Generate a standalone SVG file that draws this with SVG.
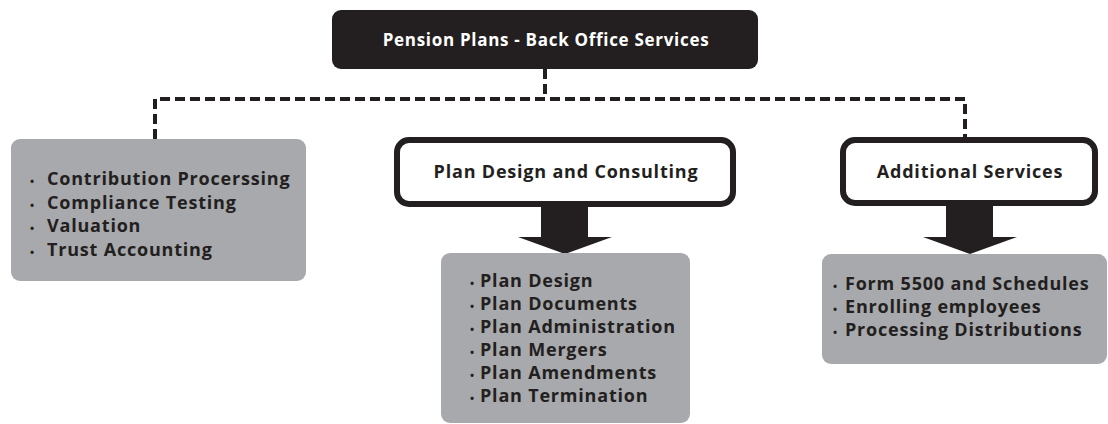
<svg xmlns="http://www.w3.org/2000/svg" width="1108" height="424" viewBox="0 0 1108 424">
<style>
.t{font-family:"Open Sans","Liberation Sans",sans-serif;font-weight:700;fill:#231f20;}
.title{font-size:17px;letter-spacing:0.7px;fill:#ffffff;}
.hdr{font-size:18px;letter-spacing:0.8px;}
.item{font-size:18px;letter-spacing:0.8px;}
.bul{font-size:11px;letter-spacing:0;}
.gray{fill:#a7a9ac;}
.white{fill:#ffffff;stroke:#231f20;stroke-width:6;}
.dash{fill:none;stroke:#231f20;stroke-width:4;stroke-dasharray:10 5;}
.arrow{fill:#231f20;}
</style>
<rect width="1108" height="424" fill="#ffffff"/>
<g id="connectors">
<path class="dash" d="M545,69 V99"/>
<path class="dash" d="M155,139 V99 H965 V137"/>
<polygon class="arrow" points="541,204 588,204 588,237 612,237 565,254 518,237 541,237"/>
<polygon class="arrow" points="946,204 993,204 993,237 1017,237 970,254 923,237 946,237"/>
</g>
<g id="root">
<rect x="332" y="10" width="426" height="59" rx="9" fill="#231f20"/>
<text class="t title" x="546" y="46" text-anchor="middle">Pension Plans - Back Office Services</text>
</g>
<g id="core-services">
<rect class="gray" x="11" y="139" width="295" height="142" rx="9"/>
<text class="t item" y="185"><tspan class="bul" x="30">•</tspan><tspan x="47">Contribution Procerssing</tspan></text>
<text class="t item" y="209"><tspan class="bul" x="30">•</tspan><tspan x="47">Compliance Testing</tspan></text>
<text class="t item" y="232"><tspan class="bul" x="30">•</tspan><tspan x="47">Valuation</tspan></text>
<text class="t item" y="256"><tspan class="bul" x="30">•</tspan><tspan x="47">Trust Accounting</tspan></text>
</g>
<g id="plan-design">
<rect class="white" x="397" y="140" width="336" height="64" rx="12"/>
<text class="t hdr" x="566" y="178" text-anchor="middle">Plan Design and Consulting</text>
</g>
<g id="plan-design-items">
<rect class="gray" x="441" y="253" width="249" height="170" rx="9"/>
<text class="t item" y="287"><tspan class="bul" x="470">•</tspan><tspan x="480">Plan Design</tspan></text>
<text class="t item" y="310"><tspan class="bul" x="470">•</tspan><tspan x="480">Plan Documents</tspan></text>
<text class="t item" y="333"><tspan class="bul" x="470">•</tspan><tspan x="480">Plan Administration</tspan></text>
<text class="t item" y="356"><tspan class="bul" x="470">•</tspan><tspan x="480">Plan Mergers</tspan></text>
<text class="t item" y="379"><tspan class="bul" x="470">•</tspan><tspan x="480">Plan Amendments</tspan></text>
<text class="t item" y="402"><tspan class="bul" x="470">•</tspan><tspan x="480">Plan Termination</tspan></text>
</g>
<g id="additional">
<rect class="white" x="843" y="140" width="252" height="63" rx="12"/>
<text class="t hdr" x="970" y="178" text-anchor="middle">Additional Services</text>
</g>
<g id="additional-items">
<rect class="gray" x="822" y="254" width="285" height="110" rx="9"/>
<text class="t item" y="290"><tspan class="bul" x="833">•</tspan><tspan x="845">Form 5500 and Schedules</tspan></text>
<text class="t item" y="313"><tspan class="bul" x="833">•</tspan><tspan x="845">Enrolling employees</tspan></text>
<text class="t item" y="336"><tspan class="bul" x="833">•</tspan><tspan x="845">Processing Distributions</tspan></text>
</g>
</svg>
